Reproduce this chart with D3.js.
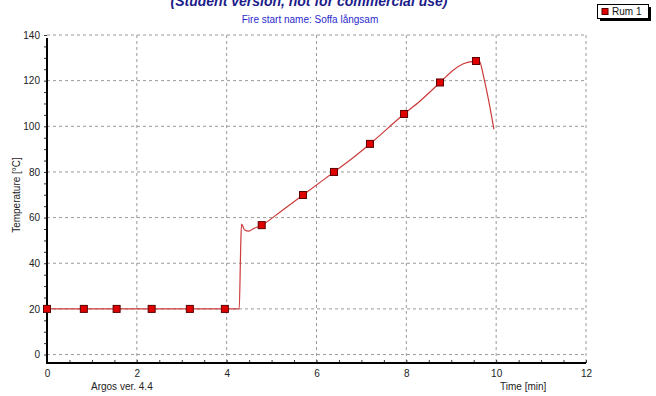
<!DOCTYPE html>
<html>
<head>
<meta charset="utf-8">
<script src="https://cdn.jsdelivr.net/npm/d3@7"></script>
<style>
  body { margin: 0; background: #fff; }
  svg { display: block; font-family: Arial, "Liberation Sans", sans-serif; }
  .grid line { stroke: #9a9a9a; stroke-dasharray: 3,3; stroke-width: 1; }
  .tick text { fill: #222; font-size: 10px; }
  .axis-title { fill: #222; font-size: 10px; }
</style>
</head>
<body>
<div id="chart"></div>
<script>
// Temperature curve "Rum 1" — time [min], temperature [°C]
const lineTimes = [0, 4.28, 4.31, 4.33, 4.4, 4.49, 4.6, 4.78, 5.2, 5.7, 6.39, 6.8, 7.19, 7.95, 8.3, 8.75, 9.05, 9.27, 9.55, 9.62, 9.72, 9.83, 9.95];
const lineTemps = [20, 20, 45, 57.2, 54.6, 54.1, 55.2, 56.7, 62.6, 69.9, 80, 86, 92.3, 105.4, 111, 119.2, 124.7, 127.4, 128.6, 128.8, 121.8, 111.6, 98.7];

// Marker points on the curve
const markerTimes = [0, 0.82, 1.55, 2.33, 3.18, 3.96, 4.78, 5.7, 6.39, 7.19, 7.95, 8.75, 9.55];
const markerTemps = [20, 20, 20, 20, 20, 20, 56.7, 69.9, 80, 92.3, 105.4, 119.2, 128.6];

const xTicks = [0, 2, 4, 6, 8, 10, 12];
const yTicks = [0, 20, 40, 60, 80, 100, 120, 140];

const cfg = {
  width: 656,
  height: 396,
  left: 47,
  right: 586,
  top: 35,
  bottom: 363,
  color: '#cc3a3a',
};

const svg = d3.select('#chart').append('svg')
  .attr('width', cfg.width)
  .attr('height', cfg.height);

const x = d3.scaleLinear().domain([0, 12]).range([cfg.left, cfg.right]);
const y = d3.scaleLinear().domain([-3.7, 140]).range([cfg.bottom, cfg.top]);

// Title (cut off at top) and subtitle
svg.append('text')
  .attr('x', 309).attr('y', 6)
  .attr('text-anchor', 'middle')
  .attr('fill', '#1c1c8a')
  .attr('font-size', 14)
  .attr('font-weight', 'bold')
  .attr('font-style', 'italic')
  .text('(Student version, not for commercial use)');

svg.append('text')
  .attr('x', 310).attr('y', 23)
  .attr('text-anchor', 'middle')
  .attr('fill', '#2a2acc')
  .attr('font-size', 10)
  .text('Fire start name:  Soffa långsam');

// Gridlines
const grid = svg.append('g').attr('class', 'grid');
grid.selectAll('.gx').data(xTicks.filter(d => d > 0)).join('line')
  .attr('x1', d => x(d)).attr('x2', d => x(d))
  .attr('y1', cfg.top).attr('y2', cfg.bottom);
grid.selectAll('.gy').data(yTicks).join('line')
  .attr('x1', cfg.left).attr('x2', cfg.right)
  .attr('y1', d => y(d)).attr('y2', d => y(d));

// Minor ticks
const yMinor = d3.range(0, 141, 5);
const xMinor = d3.range(0, 12.01, 0.5);

svg.append('g')
  .attr('transform', `translate(${cfg.left},0)`)
  .call(d3.axisLeft(y).tickValues(yMinor).tickSize(3).tickFormat(''))
  .call(g => g.select('.domain').remove())
  .call(g => g.selectAll('line').attr('stroke', '#333'));

svg.append('g')
  .attr('transform', `translate(0,${cfg.bottom})`)
  .call(d3.axisBottom(x).tickValues(xMinor).tickSize(-3).tickFormat(''))
  .call(g => g.select('.domain').remove())
  .call(g => g.selectAll('line').attr('stroke', '#333'));

// Tick labels
svg.append('g')
  .attr('transform', `translate(${cfg.left},0)`)
  .call(d3.axisLeft(y).tickValues(yTicks).tickSize(0).tickPadding(7))
  .call(g => g.select('.domain').remove());

svg.append('g')
  .attr('transform', `translate(0,${cfg.bottom})`)
  .call(d3.axisBottom(x).tickValues(xTicks).tickSize(0).tickPadding(7))
  .call(g => g.select('.domain').remove());

// Axis lines
svg.append('line')
  .attr('x1', cfg.left).attr('x2', cfg.left)
  .attr('y1', cfg.top + 3).attr('y2', cfg.bottom + 1)
  .attr('stroke', '#000').attr('stroke-width', 2);
svg.append('line')
  .attr('x1', cfg.left - 1).attr('x2', cfg.right)
  .attr('y1', cfg.bottom).attr('y2', cfg.bottom)
  .attr('stroke', '#000').attr('stroke-width', 2);

// Axis titles
svg.append('text')
  .attr('class', 'axis-title')
  .attr('transform', 'translate(20,195) rotate(-90)')
  .attr('text-anchor', 'middle')
  .text('Temperature [°C]');

svg.append('text')
  .attr('class', 'axis-title')
  .attr('x', 91).attr('y', 390)
  .text('Argos ver. 4.4');

svg.append('text')
  .attr('class', 'axis-title')
  .attr('x', 500).attr('y', 390)
  .text('Time [min]');

// Curve
const points = lineTimes.map((t, i) => [t, lineTemps[i]]);
const line = d3.line()
  .x(d => x(d[0]))
  .y(d => y(d[1]))
  .curve(d3.curveMonotoneX);

svg.append('path')
  .datum(points)
  .attr('d', line)
  .attr('fill', 'none')
  .attr('stroke', cfg.color)
  .attr('stroke-width', 1.2);

// Markers
const markers = markerTimes.map((t, i) => [t, markerTemps[i]]);
svg.append('g').selectAll('rect').data(markers).join('rect')
  .attr('x', d => x(d[0]) - 3.5)
  .attr('y', d => y(d[1]) - 3.5)
  .attr('width', 7).attr('height', 7)
  .attr('fill', '#e00000')
  .attr('stroke', '#5a0000')
  .attr('stroke-width', 1);

// Legend
const lg = svg.append('g');
lg.append('rect')
  .attr('x', 600).attr('y', 7).attr('width', 51).attr('height', 14)
  .attr('fill', '#000');
lg.append('rect')
  .attr('x', 597.5).attr('y', 4.5).attr('width', 51).attr('height', 14)
  .attr('fill', '#fff').attr('stroke', '#000');
lg.append('rect')
  .attr('x', 602).attr('y', 8.5).attr('width', 6).attr('height', 6)
  .attr('fill', '#e00000').attr('stroke', '#5a0000');
lg.append('text')
  .attr('x', 612).attr('y', 15)
  .attr('font-size', 10).attr('fill', '#111')
  .text('Rum 1');
</script>
</body>
</html>
